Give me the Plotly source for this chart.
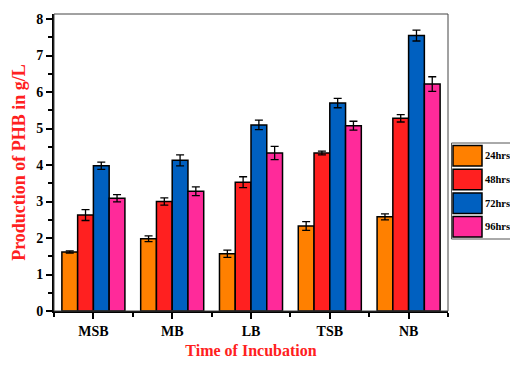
import plotly.graph_objects as go

categories = ["MSB", "MB", "LB", "TSB", "NB"]
series_names = ["24hrs", "48hrs", "72hrs", "96hrs"]
colors = ["#FF8000", "#FF2020", "#0060C0", "#FF2A9A"]
values_24 = [1.62, 1.98, 1.57, 2.33, 2.58]
values_48 = [2.63, 3.00, 3.53, 4.33, 5.28]
values_72 = [3.98, 4.13, 5.10, 5.70, 7.55]
values_96 = [3.09, 3.28, 4.33, 5.08, 6.22]
err_24 = [0.03, 0.08, 0.10, 0.12, 0.08]
err_48 = [0.15, 0.10, 0.15, 0.05, 0.10]
err_72 = [0.10, 0.15, 0.13, 0.13, 0.15]
err_96 = [0.10, 0.12, 0.18, 0.12, 0.20]
y_ticks = [0, 1, 2, 3, 4, 5, 6, 7, 8]

all_vals = [values_24, values_48, values_72, values_96]
all_errs = [err_24, err_48, err_72, err_96]

FONT = "Liberation Serif"
xpos = list(range(len(categories)))

fig = go.Figure()
for name, col, vals, errs in zip(series_names, colors, all_vals, all_errs):
    fig.add_trace(go.Bar(
        x=xpos, y=vals, name=name,
        marker=dict(color=col, line=dict(color="black", width=1.5)),
        error_y=dict(type="data", array=errs, color="black", thickness=1.3, width=4),
        showlegend=False,
    ))

# custom legend (page coords -> paper coords; plot area spans x 54..448, y 14..311)
def px(x):
    return (x - 54) / 394


def py(y):
    return (311 - y) / 297


shapes = [dict(type="rect", xref="paper", yref="paper",
               x0=px(451.5), x1=px(530), y0=py(239), y1=py(143),
               line=dict(color="#555555", width=1), fillcolor="white", layer="below"),
          dict(type="rect", xref="paper", yref="paper", x0=0, x1=1, y0=0, y1=1,
               line=dict(color="#444444", width=1))]
annotations = []
for i, (name, col) in enumerate(zip(series_names, colors)):
    top = 145.5 + i * 23.7
    bot = top + 20.5
    shapes.append(dict(type="rect", xref="paper", yref="paper",
                       x0=px(453), x1=px(482), y0=py(bot), y1=py(top),
                       fillcolor=col, line=dict(color="black", width=1.5)))
    annotations.append(dict(xref="paper", yref="paper", x=px(483),
                            y=py((top + bot) / 2), text=name, showarrow=False,
                            xanchor="left", yanchor="middle",
                            font=dict(family=FONT, size=10.5, color="black", weight="bold")))

fig.update_layout(
    width=502, height=351,
    margin=dict(l=46, r=62, t=6, b=48),
    plot_bgcolor="white", paper_bgcolor="white",
    barmode="group", bargap=0.2, bargroupgap=0,
    shapes=shapes, annotations=annotations,
    font=dict(family=FONT),
)
fig.update_xaxes(
    automargin=False,
    range=[-0.5, 4.5], tickvals=xpos, ticktext=categories,
    ticks="outside", ticklen=6, tickwidth=1.5, tickcolor="black",
    showline=True, linecolor="black", linewidth=2, showgrid=False, zeroline=False,
    minor=dict(ticks="outside", ticklen=4, tickwidth=1.5, tickcolor="black", tick0=-0.5, dtick=1),
    tickfont=dict(family=FONT, size=14, color="black", weight="bold"),
    title=dict(text="Time of Incubation", standoff=8,
               font=dict(family=FONT, size=16, color="#FF2020", weight="bold")),
)
fig.update_yaxes(
    automargin=False,
    range=[0, 8.14], tickvals=y_ticks,
    ticks="outside", ticklen=6, tickwidth=1.5, tickcolor="black",
    showline=True, linecolor="black", linewidth=2, showgrid=False, zeroline=False,
    minor=dict(ticks="outside", ticklen=4, tickwidth=1.5, tickcolor="black", dtick=0.5),
    tickfont=dict(family=FONT, size=14, color="black", weight="bold"),
    title=dict(text="Production of PHB in g/L", standoff=6,
               font=dict(family=FONT, size=18, color="#FF2020", weight="bold")),
)
fig.write_html("out.html")
